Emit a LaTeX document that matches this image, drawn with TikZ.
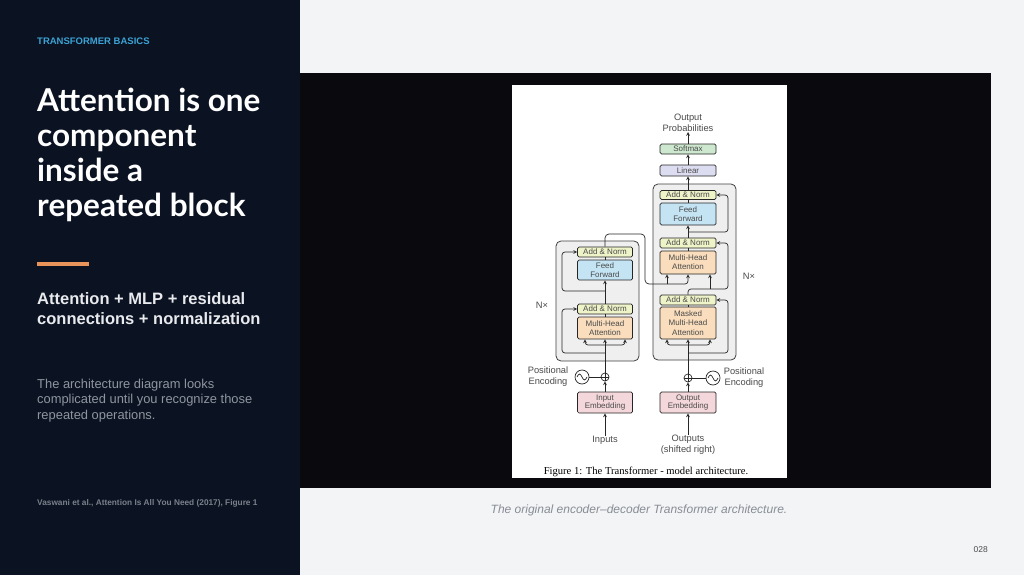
\documentclass[tikz,border=0pt]{standalone}
\usepackage{fontspec}
\setmainfont{Liberation Sans}
\newfontfamily\titlefont{Lato}
\newfontfamily\paperserif{Liberation Serif}
\usetikzlibrary{shapes,arrows,positioning}

\definecolor{panelnavy}{HTML}{0B1221}
\definecolor{pagegray}{HTML}{F3F4F6}
\definecolor{imgblack}{HTML}{0A0A0E}
\definecolor{kickerblue}{HTML}{3BA3D6}
\definecolor{accentorange}{HTML}{E8935A}
\definecolor{subwhite}{HTML}{E8EAEE}
\definecolor{bodygray}{HTML}{8F95A0}
\definecolor{citegray}{HTML}{7A808B}
\definecolor{captiongray}{HTML}{878C95}
\definecolor{addnorm}{HTML}{EEF3C8}
\definecolor{ffblue}{HTML}{C4E4F4}
\definecolor{attnpeach}{HTML}{F9DDBC}
\definecolor{embpink}{HTML}{F4D7DB}
\definecolor{linlav}{HTML}{DDDDF1}
\definecolor{smgreen}{HTML}{CDE8CE}
\definecolor{blockgray}{HTML}{EFEFEF}
\definecolor{inkgray}{HTML}{4A4A4A}

\tikzset{
  layer/.style={draw=black!85, line width=0.7pt, rounded corners=1.5pt, inner sep=0pt,
    align=center, text=inkgray, font=\fontsize{8}{8.8}\selectfont},
  enclayer/.style={layer, minimum width=55pt},
  declayer/.style={layer, minimum width=56pt},
  block/.style={draw=black!75, line width=0.8pt, rounded corners=5pt, fill=blockgray, inner sep=0pt},
  lbl/.style={text=inkgray, font=\fontsize{9.3}{11}\selectfont, align=center, inner sep=0pt},
  wire/.style={line width=0.7pt, draw=black!85},
}

\begin{document}
\begin{tikzpicture}[x=1pt,y=-1pt,>=stealth]
\useasboundingbox (0,0) rectangle (1024,575);
% page
\fill[pagegray] (0,0) rectangle (1024,575);
\fill[panelnavy] (0,0) rectangle (300,575);
\fill[imgblack] (300,73) rectangle (991,488);
\fill[white] (512,85) rectangle (787,478);

% left panel text
\node[anchor=base west, inner sep=0pt, text=kickerblue, font=\bfseries\fontsize{9.5}{11}\selectfont] (kicker) at (37,44.5) {TRANSFORMER BASICS};
\node[anchor=base west, inner sep=0pt, align=left, text=white, font=\titlefont\bfseries\fontsize{31.5}{35}\selectfont] (title) at (37,216)
  {Attention is one\\component\\inside a\\repeated block};
\fill[accentorange] (37,262) rectangle (89,266);
\node[anchor=base west, inner sep=0pt, align=left, text=subwhite, font=\bfseries\fontsize{16.5}{20}\selectfont] (subtitle) at (37,324)
  {Attention + MLP + residual\\connections + normalization};
\node[anchor=base west, inner sep=0pt, align=left, text=bodygray, font=\fontsize{12.9}{15.5}\selectfont] (body) at (37,419)
  {The architecture diagram looks\\complicated until you recognize those\\repeated operations.};
\node[anchor=base west, inner sep=0pt, text=citegray, font=\bfseries\fontsize{8.3}{9}\selectfont] (cite) at (37,505.5)
  {Vaswani et al., Attention Is All You Need (2017), Figure 1};

% caption and page number
\node[anchor=base, inner sep=0pt, text=captiongray, font=\itshape\fontsize{12}{14}\selectfont] (caption) at (639,513)
  {The original encoder--decoder Transformer architecture.};
\node[anchor=base east, inner sep=0pt, text=black!70, font=\fontsize{8.5}{9}\selectfont] (pagenum) at (988,552) {028};

% repeated blocks
\node[block, minimum width=83pt, minimum height=120pt] (encblk) at (597.5,301) {};
\node[block, minimum width=83pt, minimum height=176pt] (decblk) at (694.5,272) {};

% encoder
\node[enclayer, fill=embpink, minimum height=21pt] (iEmb) at (605,402.5) {Input\\Embedding};
\node[enclayer, fill=attnpeach, minimum height=22pt] (eMHA) at (605,328) {Multi-Head\\Attention};
\node[enclayer, fill=addnorm, minimum height=10pt] (eAN1) at (605,309) {Add \& Norm};
\node[enclayer, fill=ffblue, minimum height=20pt] (eFF) at (605,270) {Feed\\Forward};
\node[enclayer, fill=addnorm, minimum height=10pt] (eAN2) at (605,252) {Add \& Norm};

% decoder
\node[declayer, fill=embpink, minimum height=21pt] (oEmb) at (688,402.5) {Output\\Embedding};
\node[declayer, fill=attnpeach, minimum height=32pt, font=\fontsize{8}{9.4}\selectfont] (dMMHA) at (688,323) {Masked\\Multi-Head\\Attention};
\node[declayer, fill=addnorm, minimum height=10pt] (dAN1) at (688,300) {Add \& Norm};
\node[declayer, fill=attnpeach, minimum height=23pt] (dMHA) at (688,262.5) {Multi-Head\\Attention};
\node[declayer, fill=addnorm, minimum height=10pt] (dAN2) at (688,243) {Add \& Norm};
\node[declayer, fill=ffblue, minimum height=22pt] (dFF) at (688,214) {Feed\\Forward};
\node[declayer, fill=addnorm, minimum height=9pt] (dAN3) at (688,195) {Add \& Norm};
\node[declayer, fill=linlav, minimum height=11pt] (linear) at (688,170.5) {Linear};
\node[declayer, fill=smgreen, minimum height=10pt] (softmax) at (688,149) {Softmax};

% labels
\node[lbl] (outp) at (688,123) {Output\\Probabilities};
\node[lbl] (inputs) at (605,440) {Inputs};
\node[lbl] (outputs) at (688,445) {Outputs\\(shifted right)};
\node[lbl] (epos) at (548,377) {Positional\\Encoding};
\node[lbl] (dpos) at (744,378) {Positional\\Encoding};
\node[lbl] (encN) at (542,305) {N×};
\node[lbl] (decN) at (749,276) {N×};
\node[anchor=base, inner sep=0pt, font=\paperserif\fontsize{10.6}{12}\selectfont] (figcap) at (646,474)
  {Figure 1: The Transformer - model architecture.};

% positional encoding
\node[circle, wire, draw, minimum size=14pt, inner sep=0pt] (esin) at (582,377) {};
\node[circle, wire, draw, minimum size=8pt, inner sep=0pt] (eplus) at (605,377) {};
\node[circle, wire, draw, minimum size=14pt, inner sep=0pt] (dsin) at (713,378) {};
\node[circle, wire, draw, minimum size=8pt, inner sep=0pt] (dplus) at (688,378) {};
\draw[wire] ([xshift=-5pt]esin.center) sin ++(2.5,-3) cos ++(2.5,3) sin ++(2.5,3) cos ++(2.5,-3);
\draw[wire] ([xshift=-5pt]dsin.center) sin ++(2.5,-3) cos ++(2.5,3) sin ++(2.5,3) cos ++(2.5,-3);
\draw[wire] (eplus.north) -- (eplus.south) (eplus.west) -- (eplus.east);
\draw[wire] (dplus.north) -- (dplus.south) (dplus.west) -- (dplus.east);
\draw[wire] (esin) -- (eplus);
\draw[wire] (dsin) -- (dplus);

% encoder wiring
\coordinate (eq) at (605,345);
\coordinate (er1) at (605,353);
\coordinate (er2) at (605,291);
\draw[wire,->] (inputs.north) -- (iEmb.south);
\draw[wire,->] (iEmb.north) -- (eplus.south);
\draw[wire,->] (eplus.north) -- (eMHA.south);
\draw[wire,->,rounded corners=3pt] (eq) -| ([xshift=-20pt]eMHA.south);
\draw[wire,->,rounded corners=3pt] (eq) -| ([xshift=20pt]eMHA.south);
\draw[wire,->,rounded corners=3pt] (er1) -| (562,330) |- (eAN1.west);
\draw[wire] (eMHA.north) -- (eAN1.south);
\draw[wire,->] (eAN1.north) -- (eFF.south);
\draw[wire,->,rounded corners=3pt] (er2) -| (562,270) |- (eAN2.west);
\draw[wire] (eFF.north) -- (eAN2.south);

% encoder to decoder
\coordinate (kv) at (667,284);
\draw[wire,rounded corners=4pt] (eAN2.north) |- (645,234) |- (kv);
\draw[wire,->] (kv) -- ([xshift=-21pt]dMHA.south);
\draw[wire,->,rounded corners=3pt] (kv) -| (dMHA.south);

% decoder wiring
\coordinate (dq) at (688,345);
\coordinate (dr1) at (688,353);
\coordinate (dq2) at (710,289);
\coordinate (dr3) at (688,232);
\draw[wire,->] (outputs.north) -- (oEmb.south);
\draw[wire,->] (oEmb.north) -- (dplus.south);
\draw[wire,->] (dplus.north) -- (dMMHA.south);
\draw[wire,->,rounded corners=3pt] (dq) -| ([xshift=-21pt]dMMHA.south);
\draw[wire,->,rounded corners=3pt] (dq) -| ([xshift=22pt]dMMHA.south);
\draw[wire,->,rounded corners=3pt] (dr1) -| (728,320) |- (dAN1.east);
\draw[wire] (dMMHA.north) -- (dAN1.south);
\draw[wire,->,rounded corners=3pt] (dAN1.north) |- (728,289) |- (dAN2.east);
\draw[wire,->] (dq2) -- ([xshift=22pt]dMHA.south);
\draw[wire] (dMHA.north) -- (dAN2.south);
\draw[wire,->] (dAN2.north) -- (dFF.south);
\draw[wire,->,rounded corners=3pt] (dr3) -| (728,215) |- (dAN3.east);
\draw[wire] (dFF.north) -- (dAN3.south);
\draw[wire,->] (dAN3.north) -- (linear.south);
\draw[wire,->] (linear.north) -- (softmax.south);
\draw[wire,->] (softmax.north) -- (outp.south);
\end{tikzpicture}
\end{document}
